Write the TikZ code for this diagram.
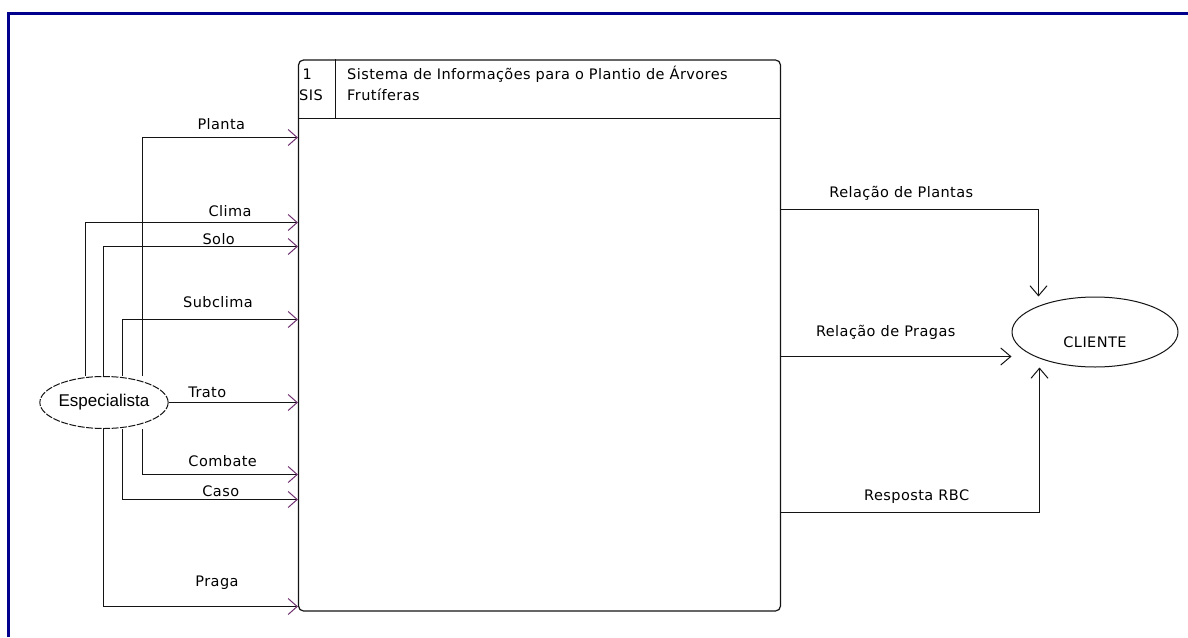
\documentclass[tikz,border=0pt]{standalone}
\usepackage{fontspec}
\setmainfont[LetterSpace=3]{DejaVu Sans}
\newfontfamily\arialf{Liberation Sans}
\usetikzlibrary{arrows.meta,shapes.geometric}
\definecolor{frameblue}{RGB}{0,0,140}
\definecolor{tipviolet}{RGB}{112,48,112}
\definecolor{ink}{RGB}{20,20,20}
\begin{document}
\begin{tikzpicture}[x=1pt,y=-1pt,
  lbl/.style={font=\fontsize{14.5}{17}\selectfont, inner sep=0pt, anchor=base, text=black},
  hdr/.style={font=\fontsize{14.5}{17}\selectfont, inner sep=0pt, anchor=base west, text=black},
  flowin/.style={draw=ink, line width=1pt, -{Straight Barb[length=9pt,width=16pt,line width=1pt,color=tipviolet]}},
  flowout/.style={draw=ink, line width=1pt, -{Straight Barb[length=10pt,width=17pt,line width=1pt,color=ink]}},
  proc/.style={draw=ink, line width=1.2pt, rounded corners=5pt, minimum width=482pt, minimum height=551pt, inner sep=0pt},
  extent/.style={ellipse, draw=ink, line width=1pt, inner sep=0pt}]
\useasboundingbox (0,0) rectangle (1188,637);
\fill[white] (0,0) rectangle (1188,637);
% frame
\draw[frameblue, line width=3pt] (8.5,637) -- (8.5,13.5) -- (1188,13.5);
% main process box
\node[proc] (sis) at (539.5,335.5) {};
\draw[ink, line width=1pt] (sis.west |- 0,118.5) -- (sis.east |- 0,118.5);
\draw[ink, line width=1pt] (sis.north -| 335.5,0) -- (335.5,118.5);
\node[hdr] (n1) at (302.5,79) {1};
\node[hdr] (nsis) at (299,100) {SIS};
\node[hdr] (t1) at (347,79) {Sistema de Informações para o Plantio de Árvores};
\node[hdr] (t2) at (347,100) {Frutíferas};
% external entities
\node[extent, dash pattern=on 7pt off 1.5pt, minimum width=98pt, minimum height=52pt, font=\arialf\fontsize{17}{20}\selectfont] (esp) at (104,402.5) {Especialista};
\node[extent, minimum width=166pt, minimum height=70pt, font=\fontsize{14.5}{17}\selectfont, text height=31pt, text depth=0pt] (cli) at (1095,332) {CLIENTE};
% inputs
\draw[flowin] (esp.north -| 142.5,0) |- (sis.west |- 0,137.5);
\draw[flowin] (esp.north -| 85.5,0) |- (sis.west |- 0,222.5);
\draw[flowin] (esp.north -| 103.5,0) |- (sis.west |- 0,246.5);
\draw[flowin] (esp.north -| 122.5,0) |- (sis.west |- 0,319.5);
\draw[flowin] (esp.east) -- (sis.west |- esp.east);
\draw[flowin] (esp.south -| 142.5,0) |- (sis.west |- 0,474.5);
\draw[flowin] (esp.south -| 122.5,0) |- (sis.west |- 0,499.5);
\draw[flowin] (esp.south -| 103.5,0) |- (sis.west |- 0,606.5);
\node[lbl] (lPl) at (221.3,129) {Planta};
\node[lbl] (lCl) at (230,216.5) {Clima};
\node[lbl] (lSo) at (218.7,244) {Solo};
\node[lbl] (lSu) at (218,307.5) {Subclima};
\node[lbl] (lTr) at (207.3,397) {Trato};
\node[lbl] (lCo) at (222.7,466.5) {Combate};
\node[lbl] (lCa) at (220.8,496.5) {Caso};
\node[lbl] (lPr) at (217,586.5) {Praga};
% outputs
\draw[flowout] (sis.east |- 0,209.5) -| (cli.north -| 1038.5,0);
\draw[flowout] (sis.east |- 0,356.5) -- (cli.west |- 0,356.5);
\draw[flowout] (sis.east |- 0,512.5) -| (cli.south -| 1039.5,0);
\node[lbl] (lRP) at (901.3,197.3) {Relação de Plantas};
\node[lbl] (lRG) at (885.7,336) {Relação de Pragas};
\node[lbl] (lRB) at (916.7,500) {Resposta RBC};
\end{tikzpicture}
\end{document}
